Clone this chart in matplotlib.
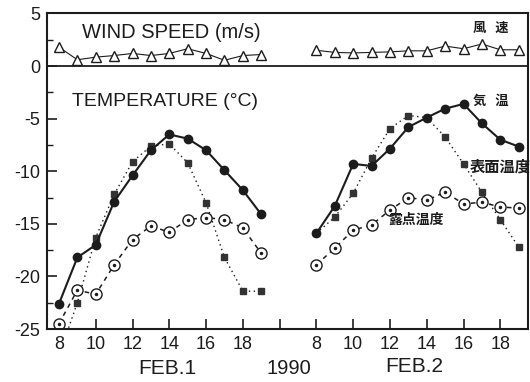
import matplotlib
matplotlib.use("Agg")
import matplotlib.pyplot as plt

plt.rcParams['font.family'] = ['Liberation Sans', 'DejaVu Sans']
plt.rcParams['axes.unicode_minus'] = False

# hours of observation, same for both days
hours = [8, 9, 10, 11, 12, 13, 14, 15, 16, 17, 18, 19]

# wind speed (m/s)
wind_feb1 = [1.8, 0.6, 0.85, 1.0, 1.2, 1.0, 1.2, 1.65, 1.2, 0.55, 1.0, 1.1]
wind_feb2 = [1.5, 1.3, 1.25, 1.3, 1.35, 1.45, 1.45, 1.9, 1.65, 2.1, 1.55, 1.55]

# air temperature (C)
air_feb1 = [-22.6, -18.2, -17.0, -12.9, -10.4, -8.0, -6.5, -6.9, -8.0, -9.9, -11.8, -14.1]
air_feb2 = [-15.9, -13.3, -9.3, -9.5, -7.85, -5.8, -4.9, -4.05, -3.6, -5.45, -7.0, -7.65]

# surface temperature (C)
sfc_feb1 = [-27.5, -22.5, -16.3, -12.2, -9.1, -7.6, -7.4, -9.2, -13.0, -18.2, -21.4, -21.4]
sfc_feb2 = [-15.9, -14.35, -12.1, -8.75, -5.95, -4.7, -4.9, -6.75, -9.3, -12.0, -14.6, -17.2]

# dew point temperature (C)
dew_feb1 = [-24.5, -21.3, -21.7, -18.9, -16.5, -15.2, -15.8, -14.6, -14.4, -14.6, -15.4, -17.8]
dew_feb2 = [-18.9, -17.3, -15.6, -15.1, -13.7, -12.5, -12.75, -12.0, -13.1, -12.95, -13.4, -13.5]

tick_hours = [8, 10, 12, 14, 16, 18]

ink = '#1c1c1c'
day2 = 14  # feb.2 8h sits 14 hour-slots after feb.1 8h on the axis

fig = plt.figure(figsize=(5.30, 3.82), dpi=100)
ax = fig.add_axes([0.0887, 0.1387, 0.9073, 0.826])

for off, wind, air, sfc, dew in [(0, wind_feb1, air_feb1, sfc_feb1, dew_feb1),
                                 (day2, wind_feb2, air_feb2, sfc_feb2, dew_feb2)]:
    x = [h + off for h in hours]
    ax.plot(x, wind, '-', color=ink, lw=0.8, marker='^', ms=7, mfc='white', mec=ink, mew=1.0)
    ax.plot(x, sfc, linestyle=(0, (1, 2.5)), color=ink, lw=1.0, marker='s', ms=5, mfc='#333333', mec='#333333')
    ax.plot(x, dew, linestyle=(0, (3, 3)), color=ink, lw=1.1, marker='o', ms=8, mfc='white', mec=ink, mew=1.0)
    ax.plot(x, dew, linestyle='none', marker='o', ms=1.5, color=ink)
    ax.plot(x, air, '-', color=ink, lw=1.5, marker='o', ms=6, mfc=ink, mec=ink)

ax.axhline(0, color=ink, lw=1.3)

ax.set_xlim(7.35, 33.5)
ax.set_ylim(-25, 5)

xt = tick_hours + [20] + [h + day2 for h in tick_hours]
xl = [str(h) for h in tick_hours] + [''] + [str(h) for h in tick_hours]
ax.set_xticks(xt)
ax.set_xticklabels(xl)
ax.set_yticks([5, 0, -5, -10, -15, -20, -25])
ax.set_yticks([2.5, -2.5, -7.5, -12.5, -17.5, -22.5], minor=True)

ax.tick_params(axis='both', which='major', direction='in', length=7, width=1.2,
               labelsize=13, colors=ink, pad=5)
ax.tick_params(axis='y', which='minor', direction='in', length=4, width=1.0, colors=ink)
ax.tick_params(top=False, right=False)
for s in ax.spines.values():
    s.set_color(ink)
    s.set_linewidth(1.5)

ax.text(9.25, 3.2, 'WIND SPEED (m/s)', fontsize=14.5, color=ink, va='center', ha='left')
ax.text(8.7, -3.4, 'TEMPERATURE (°C)', fontsize=14, color=ink, va='center', ha='left')

cjk = ['Noto Sans CJK JP', 'DejaVu Sans']
ax.text(30.5, 3.6, '風   速', fontsize=9.5, fontweight='bold', color=ink, va='center', ha='left', family=cjk)
ax.text(30.5, -3.3, '気   温', fontsize=9.5, fontweight='bold', color=ink, va='center', ha='left', family=cjk)
ax.text(30.35, -9.6, '表面温度', fontsize=11, fontweight='bold', color=ink, va='center', ha='left', family=cjk)
ax.text(25.9, -14.6, '露点温度', fontsize=10, fontweight='bold', color=ink, va='center', ha='left', family=cjk)

fig.text(167 / 530, 1 - 369 / 382, 'FEB.1', fontsize=15, color=ink, ha='center', va='center')
fig.text(289 / 530, 1 - 369 / 382, '1990', fontsize=14.5, color=ink, ha='center', va='center')
fig.text(414 / 530, 1 - 366 / 382, 'FEB.2', fontsize=15, color=ink, ha='center', va='center')

fig.savefig('out.png', dpi=100, facecolor='white')
